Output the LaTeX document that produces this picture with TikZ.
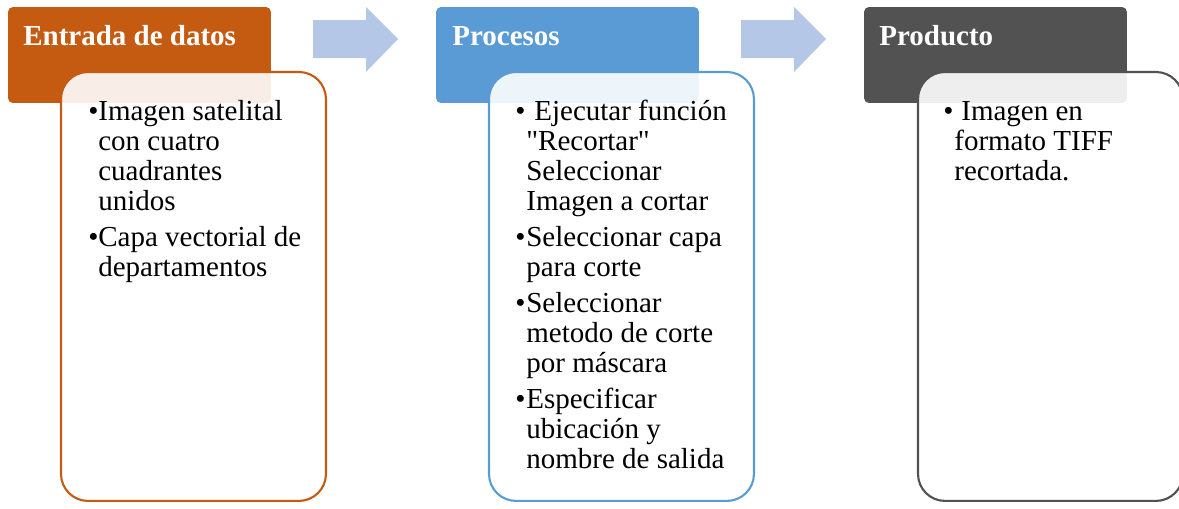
\documentclass[tikz,border=0pt]{standalone}
\usepackage{fontspec}
\setmainfont{Liberation Serif}
\definecolor{orng}{HTML}{C55A11}
\definecolor{blu}{HTML}{5B9BD5}
\definecolor{gry}{HTML}{525252}
\definecolor{arw}{HTML}{B4C7E7}
\tikzset{
 hdr/.style={fill=#1, draw=none, rounded corners=0.1cm, anchor=north west, inner sep=0, outer sep=0, minimum width=5.26cm, minimum height=1.92cm},
 bodybox/.style={draw=#1, line width=1.2pt, fill=white, fill opacity=0.9, rounded corners=0.54cm, anchor=north west, inner sep=0, outer sep=0, minimum width=5.3cm, minimum height=8.58cm},
 htxt/.style={anchor=base west, inner sep=0, text=white, font=\fontsize{16.5}{17}\selectfont\bfseries},
 btxt/.style={anchor=base west, inner sep=0, text=black, font=\fontsize{16.5}{17}\selectfont},
 blockarrow/.style={fill=arw, draw=none},
}
\begin{document}
\begin{tikzpicture}[x=0.02cm, y=-0.02cm]
\useasboundingbox (0,0) rectangle (1179,508);
\clip (0,0) rectangle (1179,508);

% block arrows
\fill[blockarrow] (313,20) -- (366,20) -- (366,7) -- (398,39) -- (366,72) -- (366,58) -- (313,58) -- cycle;
\fill[blockarrow] (741,20) -- (794,20) -- (794,7) -- (826,39) -- (794,72) -- (794,58) -- (741,58) -- cycle;

% headers
\node[hdr=orng] (h1) at (8,7) {};
\node[hdr=blu] (h2) at (436,7) {};
\node[hdr=gry] (h3) at (864,7) {};
\node[htxt] (t1) at (23,45) {Entrada de datos};
\node[htxt] (t2) at (452,45) {Procesos};
\node[htxt] (t3) at (879,45) {Producto};

% bodies
\node[bodybox=orng] (b1) at (61,72) {};
\node[bodybox=blu] (b2) at (489,72) {};
\node[bodybox=gry] (b3) at (918,72) {};

% body 1 text
\node[btxt] (p1a) at (88,120) {•};
\node[btxt] (l1a) at (98,120) {Imagen satelital};
\node[btxt] (l1b) at (98,150) {con cuatro};
\node[btxt] (l1c) at (98,180) {cuadrantes};
\node[btxt] (l1d) at (98,210) {unidos};
\node[btxt] (p1b) at (88,246) {•};
\node[btxt] (l1e) at (98,246) {Capa vectorial de};
\node[btxt] (l1f) at (98,276) {departamentos};

% body 2 text
\node[btxt] (p2a) at (515,120) {•};
\node[btxt] (l2a) at (534,120) {Ejecutar función};
\node[btxt] (l2b) at (526,150) {\textquotedbl Recortar\textquotedbl};
\node[btxt] (l2c) at (526,180) {Seleccionar};
\node[btxt] (l2d) at (526,210) {Imagen a cortar};
\node[btxt] (p2b) at (515,246) {•};
\node[btxt] (l2e) at (526,246) {Seleccionar capa};
\node[btxt] (l2f) at (526,276) {para corte};
\node[btxt] (p2c) at (515,312) {•};
\node[btxt] (l2g) at (526,312) {Seleccionar};
\node[btxt] (l2h) at (526,342) {metodo de corte};
\node[btxt] (l2i) at (526,372) {por máscara};
\node[btxt] (p2d) at (515,408) {•};
\node[btxt] (l2j) at (526,408) {Especificar};
\node[btxt] (l2k) at (526,438) {ubicación y};
\node[btxt] (l2l) at (526,468) {nombre de salida};

% body 3 text
\node[btxt] (p3a) at (943,120) {•};
\node[btxt] (l3a) at (961,120) {Imagen en};
\node[btxt] (l3b) at (954,150) {formato TIFF};
\node[btxt] (l3c) at (954,180) {recortada.};
\end{tikzpicture}
\end{document}
